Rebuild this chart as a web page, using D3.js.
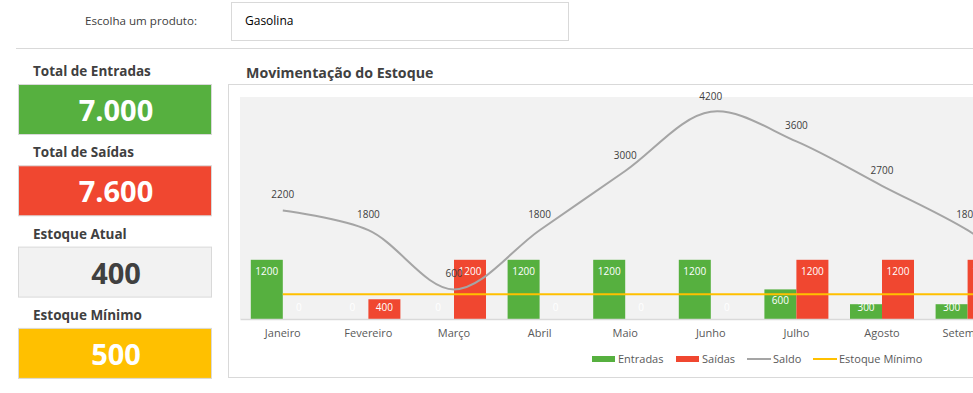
<!DOCTYPE html>
<html>
<head>
<meta charset="utf-8">
<script src="https://cdn.jsdelivr.net/npm/d3@7"></script>
<style>
  html, body { margin: 0; padding: 0; background: #fff; overflow: hidden; }
  svg { display: block; font-family: "Open Sans", "Noto Sans", sans-serif; }
</style>
</head>
<body>
<div id="page"></div>
<script>
// chart data
const months = ["Janeiro", "Fevereiro", "Março", "Abril", "Maio", "Junho",
                "Julho", "Agosto", "Setembro", "Outubro", "Novembro", "Dezembro"];
const entradas = [1200, 0, 0, 1200, 1200, 1200, 600, 300, 300, 0, 1000, 0];
const saidas   = [0, 400, 1200, 0, 0, 0, 1200, 1200, 1200, 1200, 1200, 0];
const saldo    = [2200, 1800, 600, 1800, 3000, 4200, 3600, 2700, 1800, 600, 400, 400];
const estoqueMinimo = 500;

// summary cards
const cards = [
  { label: "Total de Entradas", value: "7.000", fill: "#56b03f", text: "#ffffff" },
  { label: "Total de Saídas",   value: "7.600", fill: "#f04730", text: "#ffffff" },
  { label: "Estoque Atual",     value: "400",   fill: "#f2f2f2", text: "#404040" },
  { label: "Estoque Mínimo",    value: "500",   fill: "#ffc000", text: "#ffffff" }
];
const seriesNames = ["Entradas", "Saídas"];
const colors = { Entradas: "#56b03f", "Saídas": "#f04730", Saldo: "#a5a5a5", Min: "#ffc000" };

const W = 973, H = 393;
const svg = d3.select("#page").append("svg")
    .attr("width", W)
    .attr("height", H);

// header: product picker
svg.append("text")
    .attr("x", 85).attr("y", 25)
    .attr("font-size", 11.6).attr("fill", "#404040")
    .text("Escolha um produto:");
svg.append("rect")
    .attr("x", 231.5).attr("y", 2.5).attr("width", 337).attr("height", 38)
    .attr("fill", "#fff").attr("stroke", "#d9d9d9");
svg.append("text")
    .attr("x", 245).attr("y", 25)
    .attr("font-size", 12).attr("fill", "#000")
    .text("Gasolina");
svg.append("line")
    .attr("x1", 16).attr("x2", W).attr("y1", 48.5).attr("y2", 48.5)
    .attr("stroke", "#d9d9d9");

// left cards
const card = svg.append("g").selectAll("g")
    .data(cards)
    .enter()
    .append("g")
    .attr("transform", (d, i) => "translate(18," + (84 + i * 81.3) + ")");
card.append("text")
    .attr("x", 15).attr("y", -8)
    .attr("font-size", 13.5).attr("font-weight", "bold").attr("fill", "#404040")
    .text(d => d.label);
card.append("rect")
    .attr("x", 0.5).attr("y", 0.5).attr("width", 193).attr("height", 50)
    .attr("fill", d => d.fill).attr("stroke", "#d9d9d9");
card.append("text")
    .attr("x", 98).attr("y", 37)
    .attr("text-anchor", "middle")
    .attr("font-size", 29).attr("font-weight", "bold")
    .attr("fill", d => d.text)
    .text(d => d.value);

// chart box
svg.append("text")
    .attr("x", 246).attr("y", 78)
    .attr("font-size", 14.2).attr("font-weight", "bold").attr("fill", "#404040")
    .text("Movimentação do Estoque");
svg.append("rect")
    .attr("x", 228.5).attr("y", 84.5).attr("width", 1100).attr("height", 293)
    .attr("fill", "#fff").attr("stroke", "#d9d9d9");

const plot = { left: 240, top: 97, bottom: 319, step: 85.6 };
const x0 = d3.scaleBand()
    .domain(months)
    .range([plot.left, plot.left + plot.step * months.length])
    .padding(0);
const x1 = d3.scaleBand()
    .domain(seriesNames)
    .range([0, x0.bandwidth()])
    .paddingInner(0)
    .paddingOuter(0.3375);
const y = d3.scaleLinear().domain([0, 4500]).range([plot.bottom, plot.top]);

svg.append("rect")
    .attr("x", plot.left).attr("y", plot.top)
    .attr("width", x0.range()[1] - plot.left).attr("height", plot.bottom - plot.top)
    .attr("fill", "#f2f2f2");

// bars
const rows = months.map((m, i) => ({ month: m, Entradas: entradas[i], "Saídas": saidas[i] }));
const group = svg.append("g").selectAll("g")
    .data(rows)
    .enter()
    .append("g")
    .attr("transform", d => "translate(" + x0(d.month) + ",0)");
const cell = group.selectAll("g")
    .data(d => seriesNames.map(k => ({ key: k, value: d[k] })))
    .enter()
    .append("g");
cell.append("rect")
    .attr("x", d => x1(d.key))
    .attr("y", d => y(d.value))
    .attr("width", x1.bandwidth())
    .attr("height", d => plot.bottom - y(d.value))
    .attr("fill", d => colors[d.key]);
cell.append("text")
    .attr("x", d => x1(d.key) + x1.bandwidth() / 2)
    .attr("y", d => Math.min(y(d.value) + 15, plot.bottom - 8))
    .attr("text-anchor", "middle")
    .attr("font-size", 10).attr("fill", "#fff")
    .text(d => d.value);

// x axis
const xAxis = svg.append("g")
    .attr("transform", "translate(0," + plot.bottom + ")")
    .call(d3.axisBottom(x0).tickSize(0).tickPadding(10));
xAxis.select(".domain").attr("stroke", "#d9d9d9").attr("stroke-width", 1.5);
xAxis.selectAll("text")
    .attr("font-family", "'Open Sans', sans-serif")
    .attr("font-size", 11).attr("fill", "#595959");

// estoque minimo line
const minLine = d3.line()
    .x(d => x0(d) + x0.bandwidth() / 2)
    .y(() => y(estoqueMinimo));
svg.append("path")
    .attr("d", minLine(months))
    .attr("fill", "none").attr("stroke", colors.Min).attr("stroke-width", 2);

// saldo line
const saldoLine = d3.line()
    .x((d, i) => x0(months[i]) + x0.bandwidth() / 2)
    .y(d => y(d))
    .curve(d3.curveCatmullRom.alpha(0.5));
svg.append("path")
    .attr("d", saldoLine(saldo))
    .attr("fill", "none").attr("stroke", colors.Saldo).attr("stroke-width", 2);
svg.append("g").selectAll("text")
    .data(saldo)
    .enter()
    .append("text")
    .attr("x", (d, i) => x0(months[i]) + x0.bandwidth() / 2)
    .attr("y", d => y(d) - 12)
    .attr("text-anchor", "middle")
    .attr("font-size", 10).attr("fill", "#404040")
    .text(d => d);

// legend
const legendItems = [
  { name: "Entradas", type: "rect", x: 592 },
  { name: "Saídas", type: "rect", x: 676 },
  { name: "Saldo", type: "line", x: 747 },
  { name: "Estoque Mínimo", type: "line", x: 813, color: colors.Min }
];
const legend = svg.append("g").selectAll("g")
    .data(legendItems)
    .enter()
    .append("g")
    .attr("transform", d => "translate(" + d.x + ",359)");
legend.filter(d => d.type === "rect").append("rect")
    .attr("x", 0).attr("y", -3).attr("width", 23).attr("height", 6)
    .attr("fill", d => colors[d.name]);
legend.filter(d => d.type === "line").append("line")
    .attr("x1", 0).attr("x2", 24).attr("y1", 0).attr("y2", 0)
    .attr("stroke", d => d.color || colors[d.name]).attr("stroke-width", 2);
legend.append("text")
    .attr("x", 26).attr("y", 4)
    .attr("font-size", 11).attr("fill", "#595959")
    .text(d => d.name);
</script>
</body>
</html>
